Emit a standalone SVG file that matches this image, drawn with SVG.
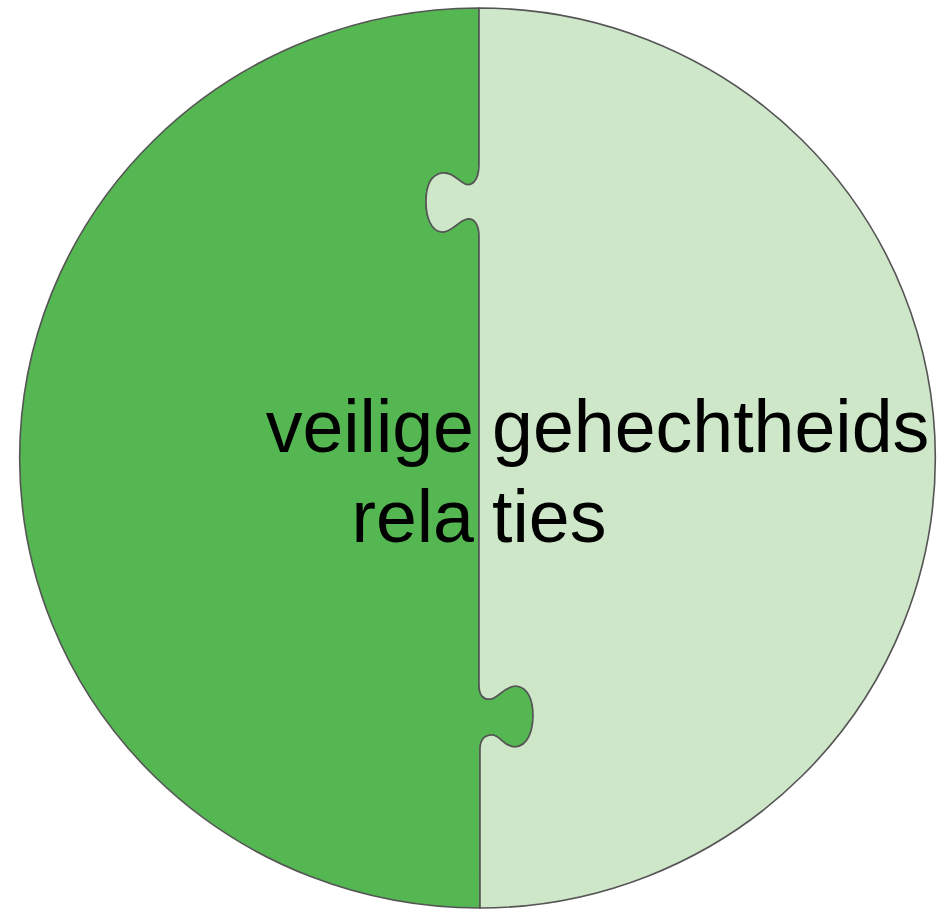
<svg xmlns="http://www.w3.org/2000/svg" width="941" height="909" viewBox="0 0 941 909">
<style>
.piece{stroke:#555555;stroke-width:1.6;stroke-linejoin:round}
.dark{fill:#55b752}
.light{fill:#cfe7c9}
.lbl{font-family:"Liberation Sans",Arial,sans-serif;font-size:73.5px;fill:#000000}
</style>
<rect width="941" height="909" fill="#ffffff"/>
<g id="piece-left">
<path class="piece dark" d="M479,8 L479,165 C479,180 472,187 465,184 C457,180 452,172 442,173 C430,175 426,188 426,202 C426,217 431,231 442,232 C452,232 458,221 467,219 C474,218 479,224 479,236 L479,685 C479,695 483,700 491,699 C499,697 505,686 516,686 C528,687 533,700 533,715 C533,731 528,746 515,747 C504,747 500,735 492,735 C484,735 480,740 480,750 L480,908 A460,450 0 0 1 479,8 Z"/>
</g>
<g id="piece-right">
<path class="piece light" d="M479,8 L479,165 C479,180 472,187 465,184 C457,180 452,172 442,173 C430,175 426,188 426,202 C426,217 431,231 442,232 C452,232 458,221 467,219 C474,218 479,224 479,236 L479,685 C479,695 483,700 491,699 C499,697 505,686 516,686 C528,687 533,700 533,715 C533,731 528,746 515,747 C504,747 500,735 492,735 C484,735 480,740 480,750 L480,908 A456,450 0 0 0 479,8 Z"/>
</g>
<g id="labels">
<text class="lbl" x="474" y="452" text-anchor="end">veilige</text>
<text class="lbl" x="474" y="542" text-anchor="end">rela</text>
<text class="lbl" x="492" y="452">gehechtheids</text>
<text class="lbl" x="492" y="542">ties</text>
</g>
<g id="connectors"></g>
</svg>
